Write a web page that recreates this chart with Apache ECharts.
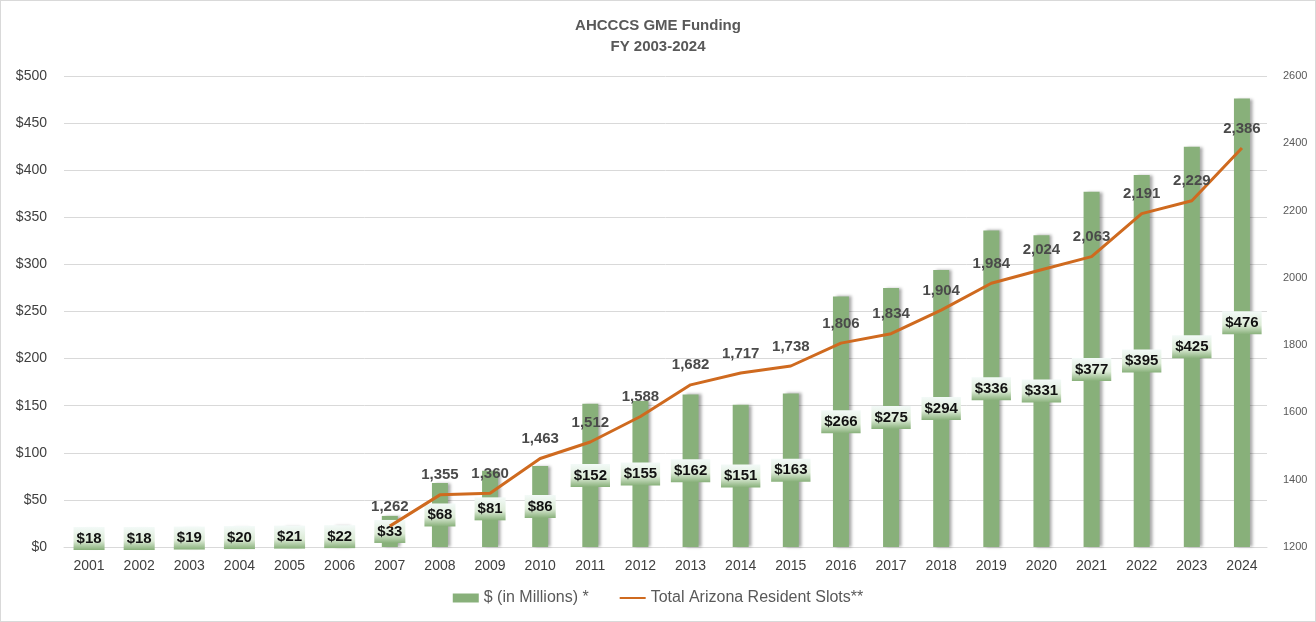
<!DOCTYPE html>
<html>
<head>
<meta charset="utf-8">
<script src="https://cdn.jsdelivr.net/npm/echarts@6/dist/echarts.min.js"></script>
<style>
  html, body { margin: 0; padding: 0; background: #fff; }
  #chart { width: 1316px; height: 622px; box-sizing: border-box; border: 1px solid #d9d9d9; }
</style>
</head>
<body>
<div id="chart"></div>
<script>
// 数据
const years = ["2001", "2002", "2003", "2004", "2005", "2006", "2007", "2008", "2009", "2010", "2011", "2012",
  "2013", "2014", "2015", "2016", "2017", "2018", "2019", "2020", "2021", "2022", "2023", "2024"];
const funding = [18, 18, 19, 20, 21, 22, 33, 68, 81, 86, 152, 155, 162, 151, 163, 266, 275, 294, 336, 331, 377, 395, 425, 476];
const slots = [null, null, null, null, null, null, 1262, 1355, 1360, 1463, 1512, 1588, 1682, 1717, 1738, 1806, 1834,
  1904, 1984, 2024, 2063, 2191, 2229, 2386];

const font = "'Liberation Sans', Arial, sans-serif";

const chart = echarts.init(document.getElementById("chart"));
chart.setOption({
  animation: false,
  textStyle: { fontFamily: font },
  title: {
    text: "AHCCCS GME Funding\nFY 2003-2024",
    left: "center",
    top: 9,
    textStyle: { fontSize: 15, fontWeight: "bold", color: "#595959", lineHeight: 21, fontFamily: font },
  },
  legend: {
    bottom: 10,
    left: "center",
    itemGap: 30,
    itemWidth: 26,
    itemHeight: 9,
    textStyle: { fontSize: 16, color: "#595959", fontFamily: font },
    data: [
      { name: "$ (in Millions) *", icon: "rect" },
      { name: "Total Arizona Resident Slots**", itemStyle: { opacity: 0 } },
    ],
  },
  grid: { left: 63, right: 48, top: 75, bottom: 74, containLabel: false },
  xAxis: {
    type: "category",
    data: years,
    axisLine: { lineStyle: { color: "#d9d9d9" } },
    axisTick: { show: false },
    axisLabel: { color: "#404040", fontSize: 14, margin: 12 },
  },
  yAxis: [
    {
      type: "value",
      min: 0,
      max: 500,
      interval: 50,
      axisLabel: { color: "#404040", fontSize: 14, formatter: "${value}", margin: 17 },
      splitLine: { lineStyle: { color: "#d9d9d9" } },
    },
    {
      type: "value",
      min: 1200,
      max: 2600,
      interval: 200,
      axisLabel: { color: "#595959", fontSize: 11, margin: 16, formatter: (v) => String(v) },
      splitLine: { show: false },
    },
  ],
  series: [
    {
      name: "$ (in Millions) *",
      type: "bar",
      data: funding,
      barWidth: 16,
      itemStyle: {
        color: "#88b07a",
        shadowColor: "rgba(0,0,0,0.35)",
        shadowBlur: 3,
        shadowOffsetX: 3,
        shadowOffsetY: 0,
      },
      label: {
        show: true,
        position: "inside",
        formatter: "${c}",
        fontSize: 15,
        fontWeight: "bold",
        color: "#111",
        padding: [4, 3, 4, 3],
        backgroundColor: {
          type: "linear", x: 0, y: 0, x2: 0, y2: 1,
          colorStops: [
            { offset: 0, color: "#f3faf8" },
            { offset: 0.6, color: "#dcebd6" },
            { offset: 1, color: "#88b07a" },
          ],
        },
      },
      z: 2,
    },
    {
      name: "Total Arizona Resident Slots**",
      type: "line",
      yAxisIndex: 1,
      data: slots,
      symbol: "circle",
      symbolSize: 0,
      showSymbol: true,
      lineStyle: { color: "#cf6a1f", width: 3 },
      itemStyle: { color: "#cf6a1f" },
      label: {
        show: true,
        position: "top",
        distance: 12,
        fontSize: 15,
        fontWeight: "bold",
        color: "#4a4a4a",
        formatter: (p) => p.value.toLocaleString("en-US"),
      },
      z: 3,
    },
  ],
});
</script>
</body>
</html>
